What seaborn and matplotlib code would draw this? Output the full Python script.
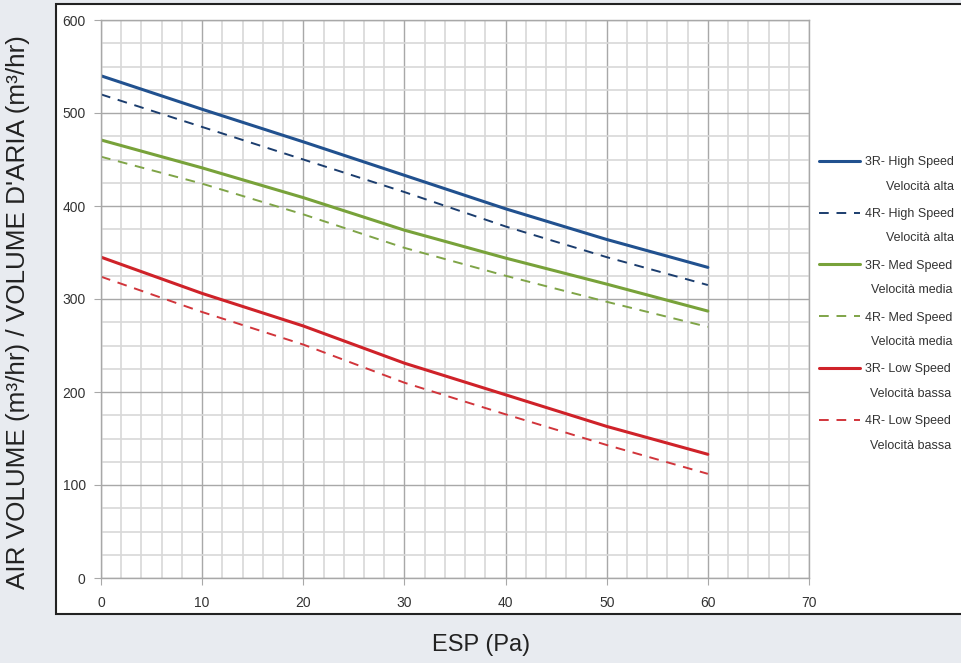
import matplotlib
matplotlib.use("Agg")
import matplotlib.pyplot as plt
import seaborn as sns
from matplotlib.ticker import MultipleLocator
from matplotlib.patches import Rectangle
from matplotlib.legend_handler import HandlerLine2D

# ESP (Pa) readings
esp = [0, 10, 20, 30, 40, 50, 60]

# air volume (m3/hr) for each coil / fan speed
high_3r = [540, 504, 469, 433, 397, 364, 334]
high_4r = [520, 485, 450, 415, 378, 345, 315]
med_3r = [471, 441, 409, 374, 344, 316, 287]
med_4r = [453, 424, 391, 355, 325, 297, 270]
low_3r = [345, 306, 271, 231, 197, 163, 133]
low_4r = [324, 286, 251, 210, 176, 143, 112]

labels = ["3R- High Speed\nVelocità alta", "4R- High Speed\nVelocità alta",
          "3R- Med Speed\nVelocità media", "4R- Med Speed\nVelocità media",
          "3R- Low Speed\nVelocità bassa", "4R- Low Speed\nVelocità bassa"]

series = [high_3r, high_4r, med_3r, med_4r, low_3r, low_4r]
colors = ["#21518f", "#1b3d6e", "#78a23a", "#7fa447", "#cf2229", "#d1353b"]
styles = ["-", "--", "-", "--", "-", "--"]
widths = [2.2, 1.4, 2.2, 1.4, 2.2, 1.4]

sns.set_style("white")
plt.rcParams["font.family"] = ["Liberation Sans", "DejaVu Sans"]

fig = plt.figure(figsize=(9.62, 6.63), dpi=100, facecolor="#e8ebf0")
fig.patches.append(Rectangle((56 / 962, 1 - 614 / 663), 1.0, 610 / 663,
                             transform=fig.transFigure, fc="white",
                             ec="#222222", lw=1.5, zorder=-1))
ax = fig.add_axes([101 / 962, 1 - 578 / 663, 708 / 962, 558 / 663])
ax.set_facecolor("white")

for vals, lab, c, ls, lw in zip(series, labels, colors, styles, widths):
    sns.lineplot(x=esp, y=vals, ax=ax, color=c, lw=lw, label=lab)
    line = ax.get_lines()[-1]
    line.set_linestyle(ls)
    if ls == "--":
        line.set_dashes([5, 4])

ax.set_xlim(0, 70)
ax.set_ylim(0, 600)
ax.xaxis.set_major_locator(MultipleLocator(10))
ax.yaxis.set_major_locator(MultipleLocator(100))
ax.xaxis.set_minor_locator(MultipleLocator(2))
ax.yaxis.set_minor_locator(MultipleLocator(25))
ax.grid(which="minor", color="#d8d8d8", lw=1.2)
ax.grid(which="major", color="#a8a8a8", lw=1.0)
ax.set_axisbelow(True)
for s in ax.spines.values():
    s.set_color("#a8a8a8")
    s.set_linewidth(1.0)
ax.tick_params(which="major", length=5, color="#a8a8a8", labelsize=10,
               labelcolor="#333333", left=True, bottom=True)
ax.tick_params(axis="x", pad=8)
ax.tick_params(axis="y", pad=6)
ax.tick_params(which="minor", length=0)
ax.set_xlabel("")
ax.set_ylabel("")

class RaisedLine(HandlerLine2D):
    def create_artists(self, legend, orig, xd, yd, w, h, fs, trans):
        return super().create_artists(legend, orig, xd, yd - 2.2 * fs, w, h, fs, trans)

handles = ax.get_lines()
leg = ax.legend(handles, labels, loc="upper left",
                bbox_to_anchor=(819 / 962, 1 - 156 / 663),
                bbox_transform=fig.transFigure, frameon=False,
                fontsize=9, handlelength=3.3, handletextpad=0.4,
                labelspacing=1.22, borderpad=0, borderaxespad=0,
                handler_map={h: RaisedLine() for h in handles})
for t in leg.get_texts():
    t.set_multialignment("right")
    t.set_linespacing(2.4)
    t.set_color("#333333")

fig.text(0.5, 1 - 645 / 663, "ESP (Pa)", ha="center", va="center",
         fontsize=17, color="#222222")
fig.text(18 / 962, 1 - 312 / 663, "AIR VOLUME (m³/hr) / VOLUME D'ARIA (m³/hr)",
         rotation=90, ha="center", va="center", fontsize=18.8, color="#222222")

fig.savefig("out.png", dpi=100, facecolor=fig.get_facecolor())
